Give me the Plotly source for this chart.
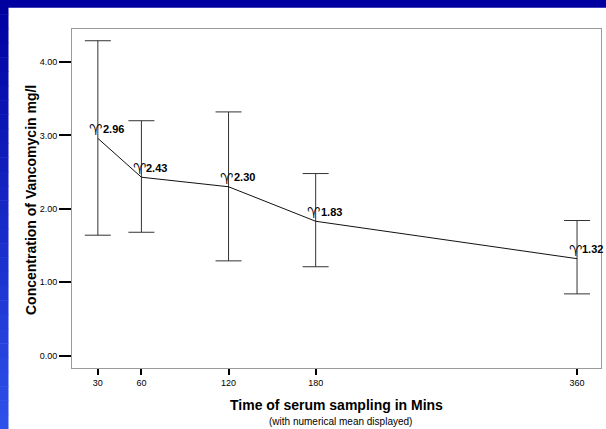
import plotly.graph_objects as go

# ---- data ----
times = [30, 60, 120, 180, 360]
means = [2.96, 2.43, 2.30, 1.83, 1.32]
upper = [4.29, 3.20, 3.32, 2.48, 1.84]
lower = [1.64, 1.68, 1.29, 1.21, 0.84]
x_ticks = [30, 60, 120, 180, 360]
y_ticks = [0, 1, 2, 3, 4]
x_title = "Time of serum sampling in Mins"
x_subtitle = "(with numerical mean displayed)"
y_title = "Concentration of Vancomycin mg/l"

W, H = 606, 429
ML, MR, MT, MB = 72, 5, 29, 61
PW, PH = W - ML - MR, H - MT - MB
FONT = "Liberation Sans, Arial, sans-serif"

err_plus = [u - m for u, m in zip(upper, means)]
err_minus = [m - l for m, l in zip(means, lower)]

fig = go.Figure()
fig.add_trace(go.Scatter(
    x=times, y=means, mode="lines",
    line=dict(color="#111111", width=1),
    error_y=dict(type="data", symmetric=False, array=err_plus,
                 arrayminus=err_minus, color="#333333", thickness=1, width=13),
    hoverinfo="skip", showlegend=False,
))

annotations = []
for t, m in zip(times, means):
    annotations.append(dict(
        x=t, y=m, xref="x", yref="y", text="<b>\u2648\ufe0e</b>", showarrow=False,
        xanchor="center", yanchor="bottom", xshift=-2, yshift=-3,
        font=dict(family="DejaVu Sans", size=15, color="#111111"),
    ))
    annotations.append(dict(
        x=t, y=m, xref="x", yref="y", text="<b>%.2f</b>" % m, showarrow=False,
        xanchor="left", yanchor="middle", xshift=3, yshift=9.5,
        font=dict(family=FONT, size=11, color="#000000"),
    ))

annotations.append(dict(
    x=(336 - ML) / PW, y=-(405 - (MT + PH)) / PH, xref="paper", yref="paper",
    text="<b>" + x_title + "</b>", showarrow=False, xanchor="center", yanchor="middle",
    font=dict(family=FONT, size=14, color="#000000"),
))
annotations.append(dict(
    x=(340 - ML) / PW, y=-(421 - (MT + PH)) / PH, xref="paper", yref="paper",
    text=x_subtitle, showarrow=False, xanchor="center", yanchor="middle",
    font=dict(family=FONT, size=10, color="#000000"),
))
annotations.append(dict(
    x=(31 - ML) / PW, y=(MT + PH - 200) / PH, xref="paper", yref="paper",
    text="<b>" + y_title + "</b>", showarrow=False, textangle=-90,
    xanchor="center", yanchor="middle",
    font=dict(family=FONT, size=14, color="#000000"),
))

# blue frame (top strip + left gradient strip)
def px_x(p):
    return (p - ML) / PW

def px_y(p):
    return (MT + PH - p) / PH

shapes = [dict(type="rect", xref="paper", yref="paper", layer="below",
               x0=px_x(0), x1=px_x(W), y0=px_y(7.7), y1=px_y(0),
               fillcolor="#0000A0", line=dict(width=0))]
n = 30
c0 = (0, 0, 160)
c1 = (45, 80, 235)
for i in range(n):
    f = i / (n - 1)
    c = tuple(int(round(a + (b - a) * f)) for a, b in zip(c0, c1))
    shapes.append(dict(type="rect", xref="paper", yref="paper", layer="below",
                       x0=px_x(0), x1=px_x(8.5),
                       y0=px_y(H * (i + 1) / n + 0.5), y1=px_y(H * i / n),
                       fillcolor="rgb(%d,%d,%d)" % c, line=dict(width=0)))

fig.update_layout(
    width=W, height=H,
    margin=dict(l=ML, r=MR, t=MT, b=MB, pad=0),
    paper_bgcolor="white", plot_bgcolor="white",
    font=dict(family=FONT, size=9, color="#000000"),
    annotations=annotations, shapes=shapes,
    xaxis=dict(range=[12.2, 376.5], tickvals=x_ticks, ticks="outside",
               ticklen=6, tickwidth=2, tickcolor="#000000",
               showgrid=False, zeroline=False, showline=True, mirror=True,
               linecolor="#9a9a9a", linewidth=1,
               tickfont=dict(family=FONT, size=9)),
    yaxis=dict(range=[-0.17, 4.45], tickvals=y_ticks, tickformat=".2f",
               ticks="outside", ticklen=12, tickwidth=2, tickcolor="#000000",
               showgrid=False, zeroline=False, showline=True, mirror=True,
               linecolor="#9a9a9a", linewidth=1,
               tickfont=dict(family=FONT, size=9)),
)

fig.write_html(
    "out.html",
    config={"displayModeBar": False},
    post_script="document.body.style.margin='0';document.body.style.overflow='hidden';",
)
